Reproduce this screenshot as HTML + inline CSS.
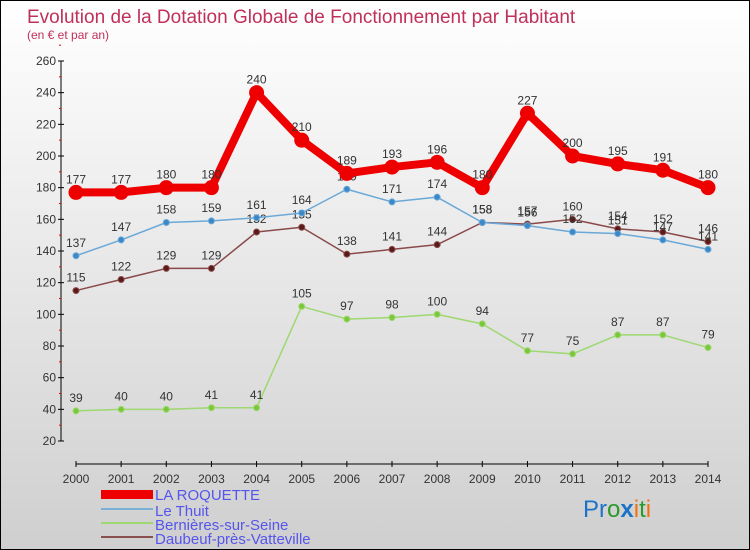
<!DOCTYPE html>
<html><head><meta charset="utf-8"><style>
body{margin:0}
#c{width:748px;height:548px;border:1px solid #000;background:linear-gradient(#fff,#cfcfcf);position:relative;font-family:"Liberation Sans",sans-serif;overflow:hidden}
</style></head><body>
<div id="c">
<svg id="s" width="748" height="548">
<text x="26" y="22" font-size="19" fill="#c0305a" font-family="Liberation Sans">Evolution de la Dotation Globale de Fonctionnement par Habitant</text>
<text x="26" y="38" font-size="12" fill="#c0305a" font-family="Liberation Sans">(en € et par an)</text>
<g id="g"></g>
<g font-family="Liberation Sans">
<rect x="100" y="489" width="52" height="9" fill="#e00"/>
<text x="154" y="499" font-size="15" fill="#5555ee">LA ROQUETTE</text>
<rect x="100" y="507" width="52" height="2" fill="#7ab0d8"/>
<text x="154" y="515" font-size="15" fill="#5555ee">Le Thuit</text>
<rect x="100" y="521" width="52" height="2" fill="#9dd870"/>
<text x="154" y="529" font-size="15" fill="#5555ee">Bernières-sur-Seine</text>
<rect x="100" y="535" width="52" height="2" fill="#8a5050"/>
<text x="154" y="543" font-size="15" fill="#5555ee">Daubeuf-près-Vatteville</text>
</g>
<text x="582" y="516" font-size="24" font-family="Liberation Sans"><tspan fill="#1a73c8">Pr</tspan><tspan fill="#2a9a2a">o</tspan><tspan fill="#1a73c8" font-weight="bold">x</tspan><tspan fill="#f07010">i</tspan><tspan fill="#2a9a2a">t</tspan><tspan fill="#f07010">i</tspan></text>
</svg>
</div>
<script>
const years=[2000,2001,2002,2003,2004,2005,2006,2007,2008,2009,2010,2011,2012,2013,2014];
const yTicks=[20,40,60,80,100,120,140,160,180,200,220,240,260];
const roquette=[177,177,180,180,240,210,189,193,196,180,227,200,195,191,180];
const thuit=[137,147,158,159,161,164,179,171,174,158,156,152,151,147,141];
const bernieres=[39,40,40,41,41,105,97,98,100,94,77,75,87,87,79];
const daubeuf=[115,122,129,129,152,155,138,141,144,158,157,160,154,152,146];
const NS="http://www.w3.org/2000/svg";
const g=document.getElementById('g');
const X=i=>75+i*(632/14);
const Y=v=>440-(v-20)*(380/240);
function mk(t,a,p){const e=document.createElementNS(NS,t);for(const k in a)e.setAttribute(k,a[k]);(p||g).appendChild(e);return e;}
let ax=mk('line',{x1:60,y1:60,x2:60,y2:440,stroke:'#000'});


yTicks.forEach(v=>{
 mk('line',{x1:57,y1:Y(v),x2:63,y2:Y(v),stroke:'#000'});
 mk('line',{x1:58,y1:Y(v+10),x2:60,y2:Y(v+10),stroke:'#e00'});
 const t=mk('text',{x:55,y:Y(v)+4,'font-size':12,'text-anchor':'end',fill:'#333'});t.textContent=v;
 
 
});
let xa=mk('line',{x1:75,y1:463,x2:707,y2:463,stroke:'#000'});


years.forEach((y,i)=>{
 mk('line',{x1:X(i),y1:460,x2:X(i),y2:466,stroke:'#000'});
 const t=mk('text',{x:X(i),y:482,'font-size':12,'text-anchor':'middle',fill:'#333'});t.textContent=y;
 
 
});
function series(d,col,w,r,name,dot){
 const pl=mk('polyline',{points:d.map((v,i)=>X(i)+','+Y(v)).join(' '),fill:'none',stroke:col,'stroke-width':w,'stroke-linejoin':'round'});
 
 
 d.forEach((v,i)=>{
  const c=mk('circle',{cx:X(i),cy:Y(v),r:r,fill:dot,stroke:col,'stroke-width':1});
  
  
  const t=mk('text',{x:X(i),y:Y(v)-9,'font-size':12,'text-anchor':'middle',fill:'#333'});t.textContent=v;
  
  
 });
}
series(bernieres,'#9dd870',1.5,3,'bernieres','#7ac83a');
series(daubeuf,'#8a4a4a',1.5,3,'daubeuf','#5a1a1a');
series(thuit,'#6aa8d8',1.5,3,'le-thuit','#3a88c8');
series(roquette,'#e00',8,7,'la-roquette','#e00');
</script>
</body></html>
